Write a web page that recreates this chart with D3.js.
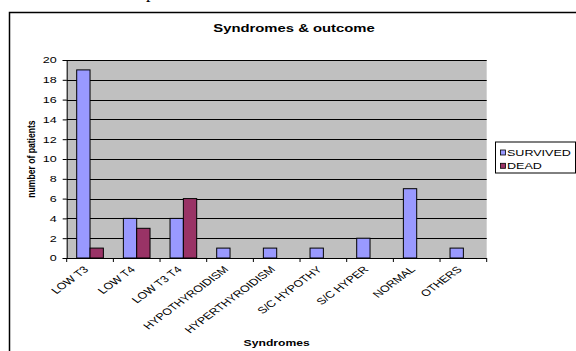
<!DOCTYPE html>
<html lang="en">
<head>
<meta charset="UTF-8">
<title>Syndromes & outcome</title>
<style>
body { margin: 0; background: #fff; }
svg { display: block; font-family: Arial, "Liberation Sans", sans-serif; }
.bar { stroke: #000; stroke-width: 1; }
</style>
</head>
<body>
<svg width="576" height="351"></svg>
<script src="https://d3js.org/d3.v7.min.js"></script>
<script>
// data
const categories = ['LOW T3', 'LOW T4', 'LOW T3 T4', 'HYPOTHYROIDISM', 'HYPERTHYROIDISM',
    'S/C HYPOTHY', 'S/C HYPER', 'NORMAL', 'OTHERS'];
const survived = [19, 4, 4, 1, 1, 1, 2, 7, 1];
const dead = [1, 3, 6, 0, 0, 0, 0, 0, 0];
const seriesNames = ['SURVIVED', 'DEAD'];
const yTicks = [0, 2, 4, 6, 8, 10, 12, 14, 16, 18, 20];

const colors = { SURVIVED: '#9999ff', DEAD: '#993366' };
const SX = 1.35; // chart is stretched horizontally

var svg = d3.select('svg');

var plot = { left: 66.7, right: 486.7, top: 60, bottom: 258 };

var x = d3.scaleBand().domain(categories).range([plot.left, plot.right]).padding(0);
var xs = d3.scaleBand().domain(seriesNames).range([0, x.bandwidth()]).paddingInner(0).paddingOuter(0.75);
var y = d3.scaleLinear().domain([0, 20]).range([plot.bottom, plot.top]);

// stray text fragment from the page above
svg.append('text')
    .attr('x', 146).attr('y', -2.5)
    .attr('font-family', '"Liberation Serif", serif')
    .attr('font-size', 18)
    .text('p');

// chart frame
svg.append('rect')
    .attr('x', 9.5).attr('y', 12.5)
    .attr('width', 640).attr('height', 400)
    .attr('fill', '#fff')
    .attr('stroke', '#000')
    .attr('stroke-width', 1.5);

// title
svg.append('text')
    .attr('transform', `translate(294,31.5) scale(${SX},1)`)
    .attr('text-anchor', 'middle')
    .attr('font-size', 11)
    .attr('font-weight', 'bold')
    .text('Syndromes & outcome');

// plot area
svg.append('rect')
    .attr('x', plot.left).attr('y', plot.top)
    .attr('width', plot.right - plot.left).attr('height', plot.bottom - plot.top)
    .attr('fill', '#c0c0c0');

// gridlines
svg.append('g')
    .selectAll('line')
    .data(yTicks.slice(1))
    .join('line')
    .attr('x1', plot.left).attr('x2', plot.right)
    .attr('y1', d => Math.round(y(d)) + 0.5).attr('y2', d => Math.round(y(d)) + 0.5)
    .attr('stroke', '#000').attr('stroke-width', 1);

// y axis
let yAxis = svg.append('g')
    .attr('transform', `translate(${plot.left},0)`)
    .call(d3.axisLeft(y).tickValues(yTicks).tickSize(4).tickPadding(6));
yAxis.select('.domain').attr('stroke', '#000');
yAxis.selectAll('.tick text')
    .attr('font-size', 9.3)
    .attr('fill', '#000')
    .attr('font-family', 'Arial, "Liberation Sans", sans-serif')
    .each(function() {
        let t = d3.select(this);
        let xx = +t.attr('x');
        t.attr('x', null)
         .attr('transform', `translate(${xx},0) scale(${SX},1)`);
    });

// bars
let groups = svg.append('g')
    .selectAll('g')
    .data(categories)
    .join('g')
    .attr('transform', d => `translate(${x(d)},0)`);

groups.selectAll('rect')
    .data((d, i) => [
        { key: 'SURVIVED', value: survived[i] },
        { key: 'DEAD', value: dead[i] }
    ].filter(e => e.value > 0))
    .join('rect')
    .attr('class', 'bar')
    .attr('x', d => xs(d.key))
    .attr('y', d => y(d.value))
    .attr('width', xs.bandwidth())
    .attr('height', d => y(0) - y(d.value))
    .attr('fill', d => colors[d.key]);

// x axis
let xAxis = svg.append('g')
    .attr('transform', `translate(0,${plot.bottom})`);
xAxis.append('line')
    .attr('x1', plot.left).attr('x2', plot.right)
    .attr('y1', 0.5).attr('y2', 0.5)
    .attr('stroke', '#000');
xAxis.selectAll('.xtick')
    .data(categories.concat(['end']))
    .join('line')
    .attr('class', 'xtick')
    .attr('x1', (d, i) => plot.left + i * x.step())
    .attr('x2', (d, i) => plot.left + i * x.step())
    .attr('y1', 0).attr('y2', 4)
    .attr('stroke', '#000');
xAxis.selectAll('.xlabel')
    .data(categories)
    .join('text')
    .attr('class', 'xlabel')
    .attr('transform', d => `translate(${x(d) + x.bandwidth() / 2 - 7},${7.5}) scale(${SX},1) rotate(-45)`)
    .attr('text-anchor', 'end')
    .attr('dy', '0.7em')
    .attr('font-size', 9.3)
    .text(d => d);

// axis titles
svg.append('text')
    .attr('transform', `translate(${(plot.left + plot.right) / 2},346) scale(${SX},1)`)
    .attr('text-anchor', 'middle')
    .attr('font-size', 9)
    .attr('font-weight', 'bold')
    .text('Syndromes');

svg.append('text')
    .attr('transform', `translate(35,${(plot.top + plot.bottom) / 2}) scale(${SX},1) rotate(-90)`)
    .attr('text-anchor', 'middle')
    .attr('font-size', 8.6)
    .attr('font-weight', 'bold')
    .text('number of patients');

// legend
let legend = svg.append('g').attr('transform', 'translate(495,141.5)');
legend.append('rect')
    .attr('x', 0.5).attr('y', 0.5)
    .attr('width', 80).attr('height', 31)
    .attr('fill', '#fff').attr('stroke', '#000');
let item = legend.selectAll('.item')
    .data(seriesNames)
    .join('g')
    .attr('class', 'item')
    .attr('transform', (d, i) => `translate(5.5,${11 + i * 13.3})`);
item.append('rect')
    .attr('x', 0).attr('y', -2.5)
    .attr('width', 5).attr('height', 5)
    .attr('fill', d => colors[d])
    .attr('stroke', '#000').attr('stroke-width', 0.8);
item.append('text')
    .attr('transform', `translate(6.5,3.4) scale(${SX},1)`)
    .attr('font-size', 9.3)
    .text(d => d);
</script>
</body>
</html>
